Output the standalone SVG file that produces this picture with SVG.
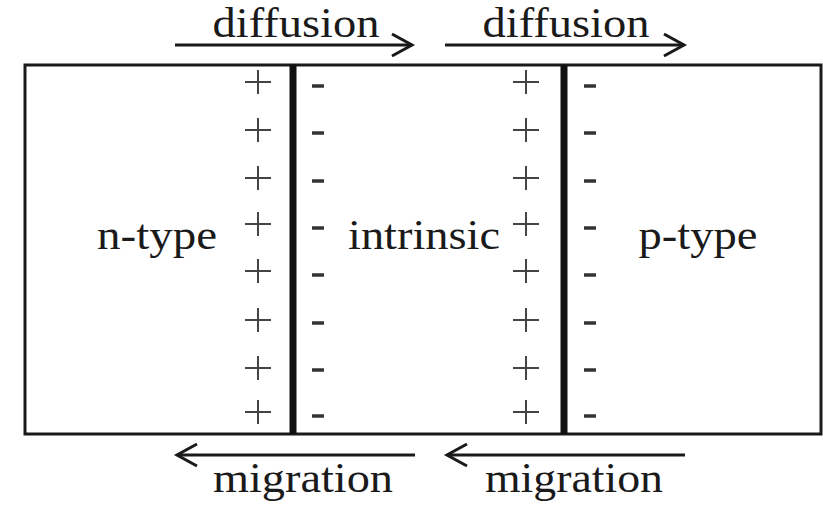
<svg xmlns="http://www.w3.org/2000/svg" width="823" height="506" viewBox="0 0 823 506">
<style>
.t{font-family:'Liberation Serif','DejaVu Serif',serif;font-size:42px;fill:#1a1a1a;text-anchor:middle}
.ln{stroke:#1a1a1a;stroke-width:3;fill:none}
.bar{stroke:#111;stroke-width:7}
.ar{stroke:#1a1a1a;stroke-width:3;fill:none}
.pl{stroke:#444;stroke-width:2}
.mn{stroke:#333;stroke-width:3.5}
</style>
<defs>
<g id="plus"><line class="pl" x1="-13" y1="0" x2="13" y2="0"/><line class="pl" x1="0" y1="-12" x2="0" y2="12"/></g>
<g id="minus"><line class="mn" x1="-6" y1="0" x2="6" y2="0"/></g>
</defs>
<rect id="box" x="25" y="65" width="796" height="369" fill="#fff" class="ln"/>
<g id="junction1">
<line class="bar" x1="293" y1="65" x2="293" y2="434"/>
<use href="#plus" x="258" y="82"/><use href="#plus" x="258" y="130"/><use href="#plus" x="258" y="178"/><use href="#plus" x="258" y="224"/><use href="#plus" x="258" y="271"/><use href="#plus" x="258" y="320"/><use href="#plus" x="258" y="368"/><use href="#plus" x="258" y="412"/>
<use href="#minus" x="318" y="86"/><use href="#minus" x="318" y="133"/><use href="#minus" x="318" y="181"/><use href="#minus" x="318" y="228"/><use href="#minus" x="318" y="275"/><use href="#minus" x="318" y="323"/><use href="#minus" x="318" y="370"/><use href="#minus" x="318" y="416"/>
</g>
<g id="junction2">
<line class="bar" x1="564" y1="65" x2="564" y2="434"/>
<use href="#plus" x="526" y="82"/><use href="#plus" x="526" y="130"/><use href="#plus" x="526" y="178"/><use href="#plus" x="526" y="224"/><use href="#plus" x="526" y="271"/><use href="#plus" x="526" y="320"/><use href="#plus" x="526" y="368"/><use href="#plus" x="526" y="412"/>
<use href="#minus" x="590" y="86"/><use href="#minus" x="590" y="133"/><use href="#minus" x="590" y="181"/><use href="#minus" x="590" y="228"/><use href="#minus" x="590" y="275"/><use href="#minus" x="590" y="323"/><use href="#minus" x="590" y="370"/><use href="#minus" x="590" y="416"/>
</g>
<g id="n-type"><text class="t" x="157" y="249" textLength="120" lengthAdjust="spacingAndGlyphs">n-type</text></g>
<g id="intrinsic"><text class="t" x="424" y="249" textLength="152" lengthAdjust="spacingAndGlyphs">intrinsic</text></g>
<g id="p-type"><text class="t" x="698" y="249" textLength="119" lengthAdjust="spacingAndGlyphs">p-type</text></g>
<g id="connectors">
<line class="ar" x1="175" y1="45" x2="412" y2="45"/><polyline class="ar" points="392,34 412,45 392,56"/>
<line class="ar" x1="445" y1="45" x2="684" y2="45"/><polyline class="ar" points="664,34 684,45 664,56"/>
<line class="ar" x1="177" y1="455" x2="415" y2="455"/><polyline class="ar" points="197,444 177,455 197,466"/>
<line class="ar" x1="447" y1="455" x2="685" y2="455"/><polyline class="ar" points="467,444 447,455 467,466"/>
</g>
<g id="labels">
<text class="t" x="296" y="37" textLength="167" lengthAdjust="spacingAndGlyphs">diffusion</text>
<text class="t" x="566" y="37" textLength="167" lengthAdjust="spacingAndGlyphs">diffusion</text>
<text class="t" x="303" y="492" textLength="180" lengthAdjust="spacingAndGlyphs">migration</text>
<text class="t" x="574" y="492" textLength="178" lengthAdjust="spacingAndGlyphs">migration</text>
</g>
</svg>
